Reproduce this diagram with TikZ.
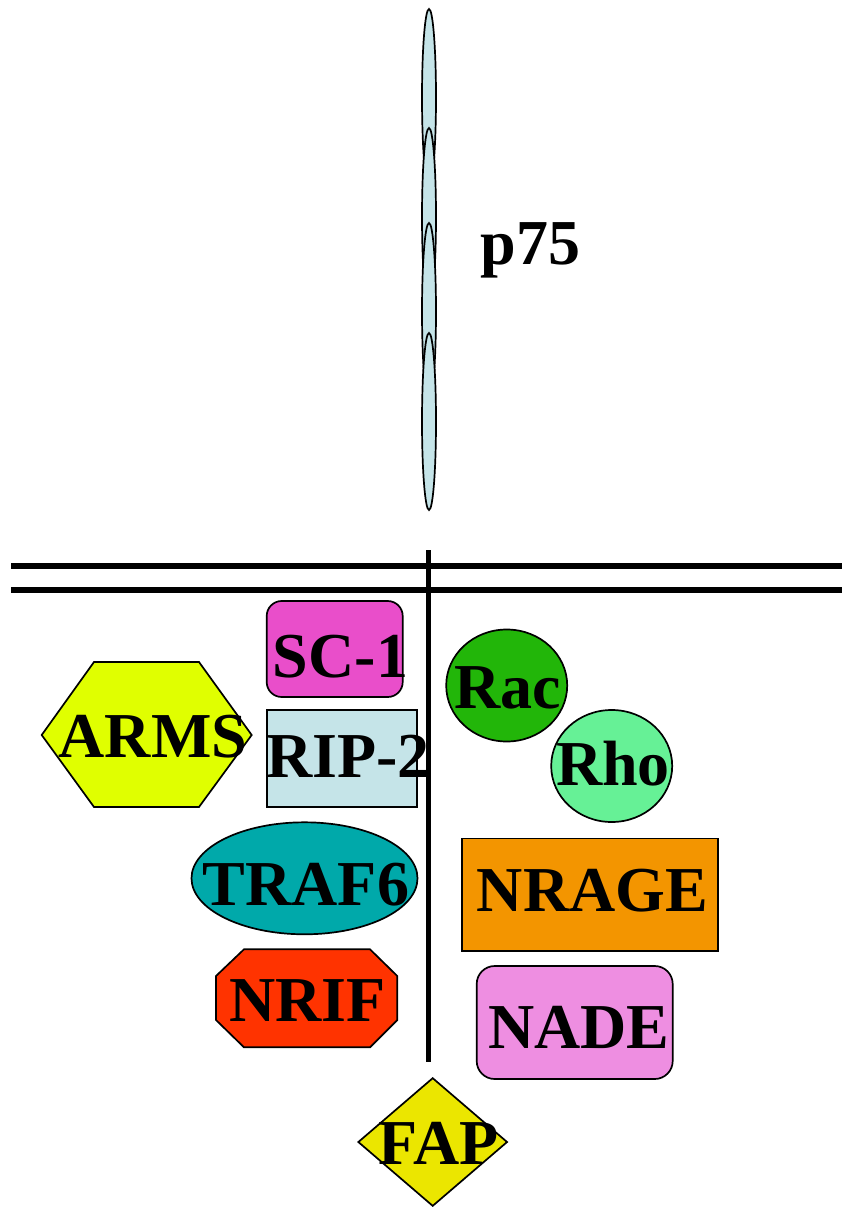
\documentclass[tikz,border=0pt]{standalone}
\usepackage{fontspec}
\setmainfont{Liberation Serif}
\usetikzlibrary{shapes.geometric}
\definecolor{receptor}{HTML}{C5E4E8}
\definecolor{scone}{HTML}{E94ECA}
\definecolor{ripfill}{HTML}{C5E4E8}
\definecolor{armsfill}{HTML}{E0FF00}
\definecolor{traffill}{HTML}{00A9AA}
\definecolor{nriffill}{HTML}{FF3300}
\definecolor{racfill}{HTML}{22B609}
\definecolor{rhofill}{HTML}{66F196}
\definecolor{nragefill}{HTML}{F39500}
\definecolor{nadefill}{HTML}{EE8EE1}
\definecolor{fapfill}{HTML}{EBE600}
\begin{document}
\begin{tikzpicture}[x=1pt,y=-1pt,
  outline/.style={draw=black,line width=1.7pt},
  lbl/.style={font=\fontsize{64}{64}\selectfont\bfseries,inner sep=0pt,anchor=base},
  ecdomain/.style={outline,ellipse,fill=receptor,minimum width=14pt,minimum height=177pt,inner sep=0pt},
  membrane/.style={line width=6pt},
  boxnode/.style={outline,rectangle,inner sep=0pt},
  oval/.style={outline,ellipse,inner sep=0pt}]
\useasboundingbox (0,0) rectangle (842,1207);

% extracellular domains of the receptor, stacked top to bottom
\node[ecdomain] (d1) at (429,97.5) {};
\node[ecdomain] (d2) at (429,216.5) {};
\node[ecdomain] (d3) at (429,311.5) {};
\node[ecdomain] (d4) at (429,421.5) {};
\node[lbl] (p75) at (530.5,264) {p75};

% plasma membrane and the intracellular part of the receptor
\coordinate (mL1) at (11,566);
\coordinate (mR1) at (842,566);
\coordinate (mL2) at (11,590);
\coordinate (mR2) at (842,590);
\draw[membrane] (mL1) -- (mR1);
\draw[membrane] (mL2) -- (mR2);
\coordinate (tm) at (428.3,550);
\coordinate (tail) at (428.3,1062);
\draw[line width=4.5pt] (tm) -- (tail);

% interacting proteins
\node[boxnode,fill=scone,rounded corners=15pt,minimum width=136pt,minimum height=96pt] (sc1) at (334.7,649) {};
\node[lbl] at (340.5,677) {SC-1};

\node[boxnode,fill=ripfill,minimum width=150pt,minimum height=96.7pt] (rip2) at (342,758.3) {};

\draw[outline,fill=armsfill] (41.7,735) -- (94,662) -- (199,662) -- (251.7,735) -- (199,807) -- (94,807) -- cycle;
\node[lbl] (arms) at (153,757) {ARMS};
\node[lbl] at (348,777) {RIP-2};

\node[oval,fill=traffill,minimum width=226pt,minimum height=112pt] (traf6) at (304.5,878.3) {};
\node[lbl] at (306,905) {TRAF6};

\draw[outline,fill=nriffill] (244,949.3) -- (370,949.3) -- (397.3,976) -- (397.3,1020) -- (370,1047.3) -- (244,1047.3) -- (216,1020) -- (216,976) -- cycle;
\node[lbl] (nrif) at (307.5,1021.7) {NRIF};

\node[oval,fill=racfill,minimum width=121pt,minimum height=112pt] (rac) at (506.7,685.5) {};
\node[lbl] at (508,708.3) {Rac};

\node[oval,fill=rhofill,minimum width=121pt,minimum height=112pt] (rho) at (611.7,766) {};
\node[lbl] at (613,785) {Rho};

\node[boxnode,fill=nragefill,minimum width=256pt,minimum height=112.7pt] (nrage) at (589.7,894.7) {};
\node[lbl] at (592.5,911.7) {NRAGE};

\node[boxnode,fill=nadefill,rounded corners=18pt,minimum width=196pt,minimum height=113pt] (nade) at (574.7,1022.5) {};
\node[lbl] at (578.7,1048.3) {NADE};

\node[outline,diamond,fill=fapfill,inner sep=0pt,minimum width=149.4pt,minimum height=128.4pt] (fap) at (432.7,1142) {};
\node[lbl] at (438.5,1164) {FAP};
\end{tikzpicture}
\end{document}
